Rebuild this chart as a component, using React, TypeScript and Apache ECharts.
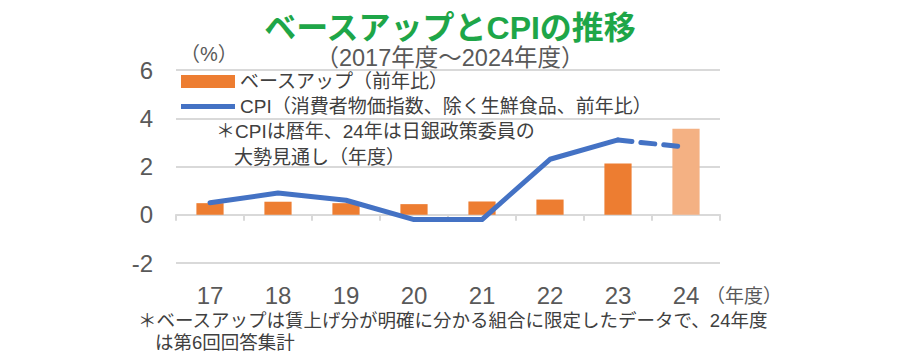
import React, { useEffect, useRef } from "react";
import * as echarts from "echarts";

const categories = ["17", "18", "19", "20", "21", "22", "23", "24"];
const baseUp = [0.48, 0.54, 0.48, 0.44, 0.55, 0.63, 2.12, 3.56];
const cpiActual: (number | null)[] = [0.5, 0.9, 0.6, -0.2, -0.2, 2.3, 3.1, null];
const cpiOutlook: (number | null)[] = [null, null, null, null, null, null, 3.1, 2.8];
const yTicks = { min: -2, max: 6, interval: 2 };

const FONT = "'Liberation Sans', 'Noto Sans CJK JP', sans-serif";
const ORANGE = "#ED7D31";
const LIGHT_ORANGE = "#F4B183";
const BLUE = "#4472C4";
const GRID = "#D9D9D9";
const TEXT = "#595959";
const DARK = "#404040";

export default function App() {
  const ref = useRef<HTMLDivElement>(null);
  useEffect(() => {
    if (!ref.current) return;
    const chart = echarts.init(ref.current, undefined, { renderer: "svg" });
    chart.setOption({
      animation: false,
      backgroundColor: "#ffffff",
      textStyle: { fontFamily: FONT },
      title: {
        text: "ベースアップとCPIの推移",
        subtext: "（2017年度～2024年度）",
        left: "center",
        top: 6,
        itemGap: 0,
        textStyle: { fontSize: 32, fontWeight: "bold", color: "#1EA648", lineHeight: 34, fontFamily: FONT },
        subtextStyle: { fontSize: 23.5, color: TEXT, lineHeight: 26, fontFamily: FONT },
      },
      legend: {
        orient: "vertical",
        left: 176,
        top: 67,
        itemWidth: 54,
        itemHeight: 13,
        itemGap: 6,
        textStyle: { fontSize: 19, color: DARK, fontFamily: FONT },
        data: [
          { name: "ベースアップ（前年比）", icon: "rect" },
          { name: "CPI（消費者物価指数、除く生鮮食品、前年比）", icon: "path://M0,0 L54,0 L54,5 L0,5 Z" },
        ],
      },
      grid: { left: 176, right: 180, top: 70, bottom: 97, containLabel: false },
      xAxis: [
        {
          type: "category",
          data: categories,
          position: "bottom",
          axisLine: { show: false, onZero: false },
          axisTick: { show: false },
          axisLabel: { fontSize: 24, color: TEXT, margin: 20, fontFamily: FONT },
          splitLine: { show: false },
        },
        {
          type: "category",
          data: categories,
          position: "bottom",
          axisLine: { show: true, onZero: true, lineStyle: { color: GRID, width: 2 } },
          axisTick: { show: true, length: 6, lineStyle: { color: GRID, width: 2 } },
          axisLabel: { show: false },
          splitLine: { show: false },
        },
      ],
      yAxis: {
        type: "value",
        min: yTicks.min,
        max: yTicks.max,
        interval: yTicks.interval,
        axisLine: { show: false },
        axisTick: { show: false },
        axisLabel: { fontSize: 24, color: TEXT, margin: 23, fontFamily: FONT },
        splitLine: { lineStyle: { color: GRID, width: 2 } },
      },
      series: [
        {
          name: "ベースアップ（前年比）",
          type: "bar",
          barWidth: "40%",
          itemStyle: { color: ORANGE },
          data: baseUp.map((v, i) =>
            i === baseUp.length - 1 ? { value: v, itemStyle: { color: LIGHT_ORANGE } } : v
          ),
        },
        {
          name: "CPI（消費者物価指数、除く生鮮食品、前年比）",
          type: "line",
          symbol: "none",
          lineStyle: { color: BLUE, width: 5, cap: "round", join: "round" },
          itemStyle: { color: BLUE },
          data: cpiActual,
          z: 3,
        },
        {
          name: "CPI見通し",
          type: "line",
          symbol: "none",
          lineStyle: { color: BLUE, width: 5, type: [14, 9], cap: "round" },
          itemStyle: { color: BLUE },
          data: cpiOutlook,
          z: 3,
        },
      ],
      graphic: [
        {
          type: "text",
          x: 180,
          y: 54,
          style: { text: "（%）", fontSize: 20, fill: TEXT, fontFamily: FONT, verticalAlign: "middle" },
        },
        {
          type: "text",
          x: 216,
          y: 131,
          style: { text: "＊CPIは暦年、24年は日銀政策委員の", fontSize: 19, fill: DARK, fontFamily: FONT, verticalAlign: "middle" },
        },
        {
          type: "text",
          x: 234,
          y: 157,
          style: { text: "大勢見通し（年度）", fontSize: 19, fill: DARK, fontFamily: FONT, verticalAlign: "middle" },
        },
        {
          type: "text",
          x: 706,
          y: 296,
          style: { text: "（年度）", fontSize: 19, fill: TEXT, fontFamily: FONT, verticalAlign: "middle" },
        },
        {
          type: "text",
          x: 138,
          y: 320,
          style: { text: "＊ベースアップは賃上げ分が明確に分かる組合に限定したデータで、24年度", fontSize: 18.5, fill: DARK, fontFamily: FONT, verticalAlign: "middle" },
        },
        {
          type: "text",
          x: 155,
          y: 342,
          style: { text: "は第6回回答集計", fontSize: 18.5, fill: DARK, fontFamily: FONT, verticalAlign: "middle" },
        },
      ],
    });
    return () => chart.dispose();
  }, []);
  return <div ref={ref} style={{ width: 900, height: 360, position: "absolute", left: 0, top: 0 }} />;
}
